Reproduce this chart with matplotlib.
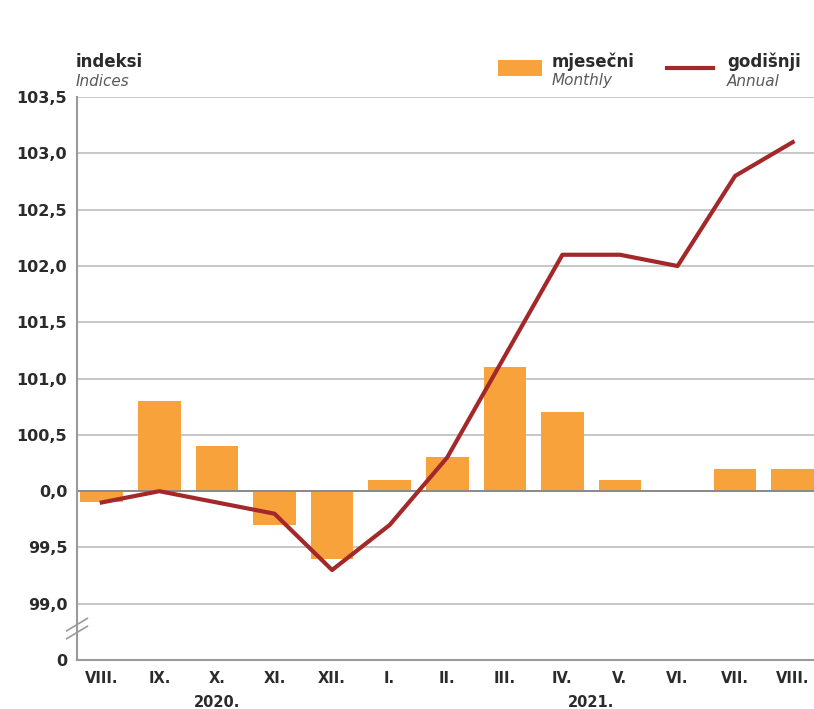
import matplotlib
matplotlib.use("Agg")
import matplotlib.pyplot as plt
import numpy as np
from matplotlib.patches import Rectangle
from matplotlib.lines import Line2D

plt.rcParams["font.family"] = ["DejaVu Sans"]

months = ["VIII.", "IX.", "X.", "XI.", "XII.", "I.", "II.", "III.", "IV.", "V.", "VI.", "VII.", "VIII."]
years = ["2020.", "2021."]
year_of_month = [0, 0, 0, 0, 0, 1, 1, 1, 1, 1, 1, 1, 1]
monthly = [99.9, 100.8, 100.4, 99.7, 99.4, 100.1, 100.3, 101.1, 100.7, 100.1, 100.0, 100.2, 100.2]
annual = [99.9, 100.0, 99.9, 99.8, 99.3, 99.7, 100.3, 101.2, 102.1, 102.1, 102.0, 102.8, 103.1]
ytick_values = [98.5, 99.0, 99.5, 100.0, 100.5, 101.0, 101.5, 102.0, 102.5, 103.0, 103.5]
ytick_labels = ["0", "99,0", "99,5", "0,0", "100,5", "101,0", "101,5", "102,0", "102,5", "103,0", "103,5"]

BAR = "#F8A23C"
LINE = "#A3282A"
GRID = "#BDBDBD"
TEXT = "#2b2b2b"
SUB = "#5a5a5a"

fig = plt.figure(figsize=(8.14, 7.09), dpi=100)
ax = fig.add_axes([0.0946, 0.069, 0.9054, 0.794])

x = np.arange(len(months))
base = 100.0
ax.bar(x, np.array(monthly) - base, bottom=base, width=0.74, color=BAR, zorder=2)
ax.plot(x, annual, color=LINE, linewidth=3, zorder=3)

ax.set_xlim(-0.43, len(months) - 0.63)
ax.set_ylim(98.5, 103.5)

for v in ytick_values[1:]:
    ax.axhline(v, color=GRID, linewidth=1.2, zorder=1)
ax.axhline(100.0, color="#8a8a8a", linewidth=1.4, zorder=2.5)

for s in ["top", "right"]:
    ax.spines[s].set_visible(False)
for s in ["left", "bottom"]:
    ax.spines[s].set_color("#9a9a9a")
    ax.spines[s].set_linewidth(1.5)

ax.set_yticks(ytick_values)
ax.set_yticklabels(ytick_labels, fontsize=11.5, color=TEXT, fontweight="bold")
ax.set_xticks(x)
ax.set_xticklabels(months, fontsize=10.5, color=TEXT, fontweight="bold")
ax.tick_params(length=0, axis="y", pad=7)
ax.tick_params(length=0, axis="x", pad=8)

# axis break on the left spine
brk_y = 98.78
ax.add_patch(Rectangle((-0.5, brk_y - 0.06), 0.2, 0.12, transform=ax.get_yaxis_transform(),
                       facecolor="white", edgecolor="none", clip_on=False, zorder=4))
for dy in (-0.035, 0.035):
    ax.add_line(Line2D([-0.014, 0.014], [brk_y + dy - 0.055, brk_y + dy + 0.055],
                       transform=ax.get_yaxis_transform(), color="#9a9a9a",
                       linewidth=1.2, clip_on=False, zorder=5))

# year labels centred under their months
for i, yr in enumerate(years):
    idx = [k for k, y in enumerate(year_of_month) if y == i]
    ax.text(np.mean(idx), -0.062, yr, transform=ax.get_xaxis_transform(),
            ha="center", va="top", fontsize=10.5, color=TEXT, fontweight="bold")

# axis title
fig.text(76 / 814, 1 - 62 / 709, "indeksi", fontsize=12, fontweight="bold", color=TEXT, va="center")
fig.text(76 / 814, 1 - 81 / 709, "Indices", fontsize=11, style="italic", color=SUB, va="center")

# legend
fig.patches.append(Rectangle((498 / 814, 1 - 76 / 709), 44 / 814, 16 / 709,
                             transform=fig.transFigure, facecolor=BAR, edgecolor="none"))
fig.text(552 / 814, 1 - 62 / 709, "mjesečni", fontsize=12, fontweight="bold", color=TEXT, va="center")
fig.text(552 / 814, 1 - 81 / 709, "Monthly", fontsize=11, style="italic", color=SUB, va="center")
fig.lines.append(Line2D([667 / 814, 713 / 814], [1 - 68 / 709, 1 - 68 / 709],
                        transform=fig.transFigure, color=LINE, linewidth=3))
fig.text(727 / 814, 1 - 62 / 709, "godišnji", fontsize=12, fontweight="bold", color=TEXT, va="center")
fig.text(727 / 814, 1 - 81 / 709, "Annual", fontsize=11, style="italic", color=SUB, va="center")

fig.savefig("out.png", dpi=100)
